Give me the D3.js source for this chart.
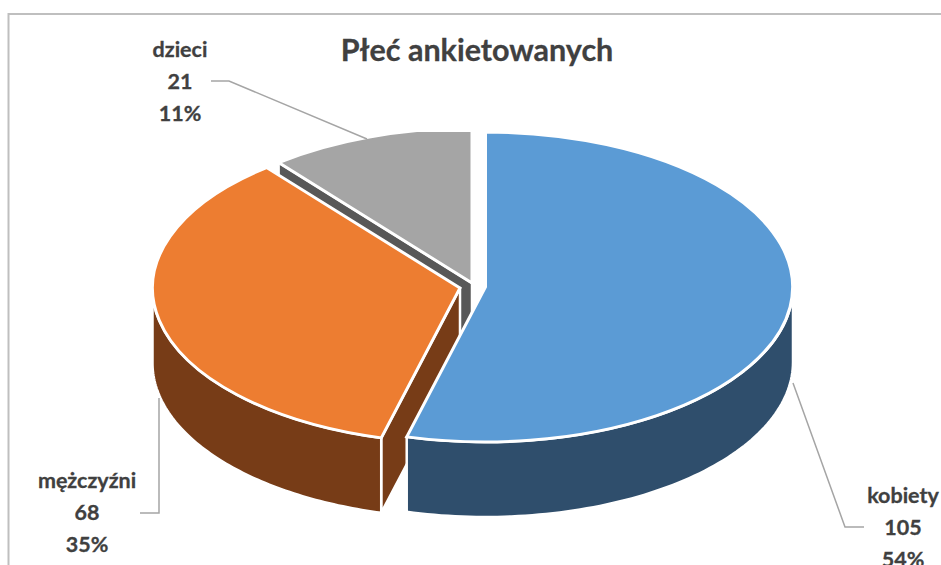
<!DOCTYPE html>
<html>
<head>
<meta charset="utf-8">
<script src="https://cdn.jsdelivr.net/npm/d3@7/dist/d3.min.js"></script>
<style>
html,body{margin:0;padding:0;background:#fff;overflow:hidden}
svg{display:block}
text{font-family:Lato,"Open Sans",sans-serif;font-weight:700;fill:#404040;stroke:#404040;stroke-width:0.3;text-anchor:middle}
</style>
</head>
<body>
<svg id="chart" width="941" height="565"></svg>
<script>
const titleText = "Płeć ankietowanych";
const categories = ["kobiety", "mężczyźni", "dzieci"];
const counts = [105, 68, 21];
const percentLabels = ["54%", "35%", "11%"];
const topColors = ["#5B9BD5", "#ED7D31", "#A5A5A5"];
const wallColors = ["#2F4E6C", "#773C17", "#585858"];

const W = 941, H = 565;
const RX = 307.5, RY = 155, DEPTH = 75;
// exploded slice centres
const centres = [[485.5, 287], [460, 288], [472, 283]];
const labelCentres = [[903, 503], [87, 488], [180, 57]];
const LINE_H = 32;
const leaders = [
  [[793, 383], [845, 527], [864, 527]],
  [[159, 398], [159, 513], [140, 513]],
  [[211, 81], [229, 81], [367, 139]]
];

const svg = d3.select("#chart");
svg.append("rect").attr("width", W).attr("height", H).attr("fill", "#fff");

// frame
svg.append("path")
  .attr("d", d3.line()([[8.5, H + 5], [8.5, 14], [W + 5, 14]]))
  .attr("fill", "none").attr("stroke", "#BFBFBF").attr("stroke-width", 2);

const pie = d3.pie().sort(null).value(d => d).startAngle(0).endAngle(2 * Math.PI);
const slices = pie(counts);

const ex = d3.scaleLinear().domain([-1, 1]).range([-RX, RX]);
const ey = d3.scaleLinear().domain([-1, 1]).range([-RY, RY]);
const arc = d3.arc().innerRadius(0).outerRadius(1);
const line = d3.line();

svg.append("defs").append("clipPath").attr("id", "topClip")
  .append("rect").attr("x", 0).attr("y", 132).attr("width", W).attr("height", H);

function pt(i, a, dz) {
  return [centres[i][0] + ex(Math.sin(a)), centres[i][1] - ey(Math.cos(a)) + (dz || 0)];
}
function outerWall(i) {
  const s = slices[i];
  const a0 = Math.max(s.startAngle, Math.PI / 2), a1 = Math.min(s.endAngle, 1.5 * Math.PI);
  if (a1 <= a0) return null;
  const as = d3.range(0, 81).map(k => a0 + (a1 - a0) * k / 80);
  return line(as.map(a => pt(i, a, 0)).concat(as.slice().reverse().map(a => pt(i, a, DEPTH)))) + "Z";
}
function radialWall(i, a) {
  return line([pt(i, a, 0), pt(i, a, DEPTH), [centres[i][0], centres[i][1] + DEPTH], centres[i]]) + "Z";
}
function drawWall(d, i) {
  if (!d) return;
  svg.append("path").attr("d", d).attr("fill", wallColors[i])
    .attr("stroke", "#fff").attr("stroke-width", 2.5).attr("stroke-linejoin", "round");
}
function drawTop(i, clip) {
  const g = svg.append("g");
  if (clip) g.attr("clip-path", "url(#topClip)");
  g.append("path")
    .attr("transform", `translate(${centres[i][0]},${centres[i][1]}) scale(${RX},${RY})`)
    .attr("d", arc(slices[i]))
    .attr("fill", topColors[i])
    .attr("stroke", "#fff").attr("stroke-width", 3)
    .attr("vector-effect", "non-scaling-stroke")
    .attr("stroke-linejoin", "miter");
}

// back to front: dzieci, mężczyźni, kobiety
drawWall(radialWall(2, slices[2].startAngle), 2);
drawTop(2, true);
drawWall(radialWall(1, slices[1].startAngle), 1);
drawWall(outerWall(1), 1);
drawTop(1, false);
drawWall(outerWall(0), 0);
drawTop(0, false);

// leader lines
leaders.forEach(p => {
  svg.append("path").attr("d", line(p)).attr("fill", "none")
    .attr("stroke", "#A5A5A5").attr("stroke-width", 1.5);
});

// labels
categories.forEach((c, i) => {
  const [x, y] = labelCentres[i];
  [c, String(counts[i]), percentLabels[i]].forEach((t, k) => {
    svg.append("text").attr("x", x).attr("y", y + k * LINE_H)
      .attr("font-size", 21.5).text(t);
  });
});

svg.append("text").attr("x", 477).attr("y", 61).attr("font-size", 30.5).text(titleText);
</script>
</body>
</html>
